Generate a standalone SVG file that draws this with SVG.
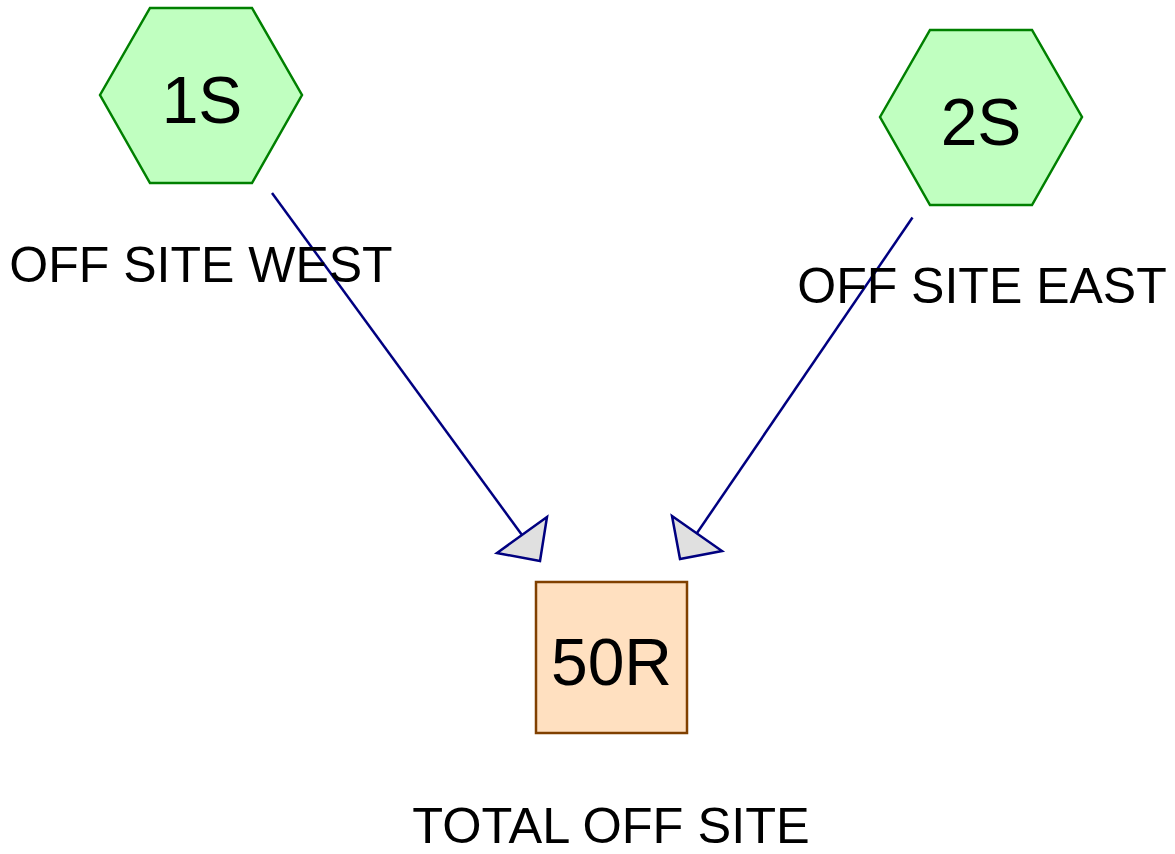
<svg xmlns="http://www.w3.org/2000/svg" width="1175" height="854" viewBox="0 0 1175 854">
  <style>
    .hex { fill: #c0ffc0; stroke: #008000; stroke-width: 2.5; }
    .box { fill: #ffe0c0; stroke: #804000; stroke-width: 2.5; }
    .id { font-family: "Liberation Sans", Arial, sans-serif; font-size: 66px; fill: #000; text-anchor: middle; }
    .label { font-family: "Liberation Sans", Arial, sans-serif; font-size: 50px; fill: #000; text-anchor: middle; }
    .link { stroke: #000080; stroke-width: 2.5; fill: none; }
    .head { fill: #e0e0e0; stroke: #000080; stroke-width: 2.5; stroke-linejoin: miter; }
  </style>
  <rect width="1175" height="854" fill="#ffffff"/>

  <!-- flow links into the reach -->
  <g id="connectors">
    <line class="link" x1="272" y1="193" x2="522" y2="535"/>
    <polygon class="head" points="540,561 497,553 547,517"/>
    <line class="link" x1="912.5" y1="217.5" x2="697" y2="533"/>
    <polygon class="head" points="680,559 672,516 722,551"/>
  </g>

  <g id="node-1S">
    <polygon class="hex" points="100,95 150,8 252,8 302,95 252,183 150,183"/>
    <text class="id" x="202" y="123">1S</text>
    <text class="label" x="201" y="282">OFF SITE WEST</text>
  </g>

  <g id="node-2S">
    <polygon class="hex" points="880,117 930,30 1032,30 1082,117 1032,205 930,205"/>
    <text class="id" x="981" y="145">2S</text>
    <text class="label" x="982" y="303">OFF SITE EAST</text>
  </g>

  <g id="node-50R">
    <rect class="box" x="536" y="582" width="151" height="151"/>
    <text class="id" x="611.5" y="685">50R</text>
    <text class="label" x="611" y="843" style="font-size:50.5px">TOTAL OFF SITE</text>
  </g>
</svg>
